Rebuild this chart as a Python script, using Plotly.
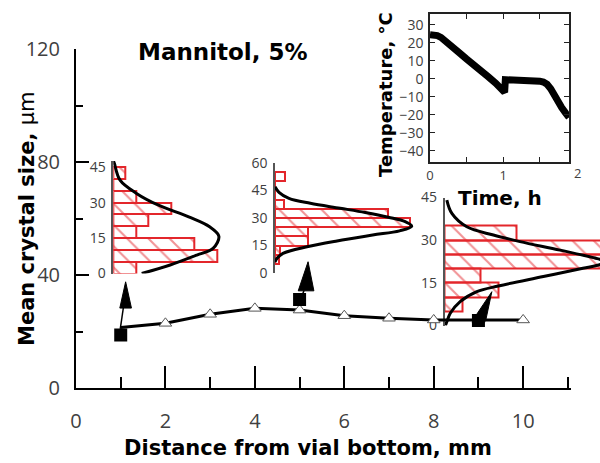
import plotly.graph_objects as go

W, H = 600, 463
RED = "#e3262b"
TICK_GRAY = "#404040"
TITLE_FONT = "DejaVu Sans"

# ---------------- main chart data ----------------
dist_mm = [1, 2, 3, 4, 5, 6, 7, 8, 9, 10]
mean_size_um = [21.5, 23.0, 26.2, 28.3, 27.7, 25.7, 24.8, 24.2, 24.2, 24.2]
tri_dist = [2, 3, 4, 5, 6, 7, 8, 9, 10]
tri_size = [23.0, 26.2, 28.3, 27.7, 25.7, 24.8, 24.2, 24.2, 24.2]
sq_dist = [1, 5, 9]
sq_size = [18.9, 31.4, 24.0]
x_tick_vals = [0, 2, 4, 6, 8, 10]
y_tick_vals = [0, 40, 80, 120]

# arrows (data units of main chart)
arrow_base_left = [0.98, 4.97, 8.86]
arrow_base_right = [1.24, 5.32, 9.16]
arrow_base_y = [28.4, 34.5, 23.8]
arrow_tip_x = [1.11, 5.19, 9.30]
arrow_tip_y = [37.7, 44.8, 34.2]
stem_x0 = [0.99, 5.06]
stem_y0 = [21.0, 33.0]
stem_x1 = [1.06, 5.10]
stem_y1 = [28.6, 34.6]

# ---------------- temperature inset ----------------
time_h = [0, 0.05, 0.1, 0.15, 0.2, 0.3, 0.4, 0.5, 0.6, 0.7, 0.8, 0.9, 1.0, 1.02,
          1.03, 1.1, 1.2, 1.3, 1.4, 1.5, 1.55, 1.6, 1.65, 1.7, 1.75, 1.8, 1.85, 1.9]
temp_c = [24.5, 24.5, 24.0, 23.0, 21.5, 18.5, 14.5, 11.0, 8.0, 4.5, 1.0, -2.5, -6.5, -7.5,
          -0.5, -0.5, -0.6, -0.8, -1.0, -1.3, -1.8, -3.0, -5.5, -9.5, -13.0, -16.0, -18.8, -21.5]
temp_ticks = [30, 20, 10, 0, -10, -20, -30, -40]

# ---------------- histogram insets ----------------
bin_w = 5
h1_centers = [2.5, 7.5, 12.5, 17.5, 22.5, 27.5, 32.5, 37.5, 42.5]
h1_counts = [2, 9, 7, 2, 3, 5, 2, 0, 1]
h1_curve_size = [0, 3.6, 7.8, 10.6, 15.8, 19.8, 24, 28.9, 33.9, 39.5, 46.6, 47.8]
h1_curve_freq = [2.45, 4.9, 7.2, 8.6, 9.1, 8.3, 6.5, 3.9, 2.0, 0.58, 0.09, 0]
h1_ticks = [0, 15, 30, 45]

h2_centers = [7.5, 12.5, 17.5, 22.5, 27.5, 32.5, 37.5, 42.5, 47.5, 52.5]
h2_counts = [0.4, 0.5, 3.5, 3.5, 14.5, 12.2, 1.0, 0, 0, 1.1]
h2_curve_size = [6, 8, 10.7, 14.3, 17.5, 20.7, 23, 25.5, 28, 30.4, 33, 35.3, 38, 40.7, 44, 47]
h2_curve_freq = [0, 0.22, 0.86, 3.44, 6.67, 10.5, 13.4, 14.7, 14.0, 12.2, 9.7, 7.0, 3.8, 1.5, 0.43, 0]
h2_ticks = [0, 15, 30, 45, 60]

h3_centers = [7.5, 12.5, 17.5, 22.5, 27.5, 32.5]
h3_counts = [1, 3, 2, 10, 10, 4]
h3_curve_size = [0, 1.3, 4.3, 8.4, 11.9, 13.9, 17.2, 20.1, 21.5, 22.5, 23.5, 26.5, 29.5, 31.8, 34.7, 39.4, 44.1]
h3_curve_freq = [0.05, 0.13, 0.32, 0.87, 1.8, 3.0, 5.5, 7.7, 8.7, 8.95, 8.5, 6.43, 4.2, 2.72, 1.24, 0.41, 0.13]
h3_ticks = [0, 15, 30, 45]


def px_x(p):
    return p / W


def px_y(p):
    return (H - p) / H


fig = go.Figure()

bar_marker = dict(color="rgba(0,0,0,0)", line=dict(color=RED, width=2),
                  pattern=dict(shape="\\", fgcolor=RED, size=15, solidity=0.14))

for ax, cen, cnt, cs, cf in [("", h1_centers, h1_counts, h1_curve_size, h1_curve_freq),
                             ("2", h2_centers, h2_counts, h2_curve_size, h2_curve_freq),
                             ("3", h3_centers, h3_counts, h3_curve_size, h3_curve_freq)]:
    fig.add_trace(go.Bar(y=cen, x=cnt, width=bin_w, orientation="h", marker=bar_marker,
                         xaxis="x" + ax, yaxis="y" + ax, showlegend=False, hoverinfo="skip"))
    fig.add_trace(go.Scatter(x=cf, y=cs, mode="lines",
                             line=dict(color="black", width=3, shape="spline", smoothing=1.0),
                             xaxis="x" + ax, yaxis="y" + ax, showlegend=False, hoverinfo="skip"))

# temperature inset
fig.add_trace(go.Scatter(x=time_h, y=temp_c, mode="lines",
                         line=dict(color="black", width=7),
                         xaxis="x4", yaxis="y4", showlegend=False, hoverinfo="skip"))

# main chart
fig.add_trace(go.Scatter(x=dist_mm, y=mean_size_um, mode="lines",
                         line=dict(color="black", width=3),
                         xaxis="x5", yaxis="y5", showlegend=False, hoverinfo="skip"))
fig.add_trace(go.Scatter(x=tri_dist, y=tri_size, mode="markers",
                         marker=dict(symbol="triangle-up", size=11, color="white",
                                     line=dict(color="#555", width=1)),
                         xaxis="x5", yaxis="y5", showlegend=False, hoverinfo="skip"))
fig.add_trace(go.Scatter(x=sq_dist, y=sq_size, mode="markers",
                         marker=dict(symbol="square", size=13, color="black"),
                         xaxis="x5", yaxis="y5", showlegend=False, hoverinfo="skip"))
for i in range(len(stem_x0)):
    fig.add_trace(go.Scatter(x=[stem_x0[i], stem_x1[i]], y=[stem_y0[i], stem_y1[i]],
                             mode="lines", line=dict(color="black", width=1.5),
                             xaxis="x5", yaxis="y5", showlegend=False, hoverinfo="skip"))
for i in range(len(arrow_tip_x)):
    fig.add_trace(go.Scatter(
        x=[arrow_base_left[i], arrow_base_right[i], arrow_tip_x[i], arrow_base_left[i]],
        y=[arrow_base_y[i], arrow_base_y[i], arrow_tip_y[i], arrow_base_y[i]],
        mode="lines", fill="toself", fillcolor="black",
        line=dict(color="black", width=1), xaxis="x5", yaxis="y5", showlegend=False,
        hoverinfo="skip"))

hidden = dict(visible=False, showgrid=False, zeroline=False)
inset_y = dict(showline=True, linecolor="#555", linewidth=1.5, ticks="", showgrid=False,
               zeroline=False, tickfont=dict(family="Open Sans", size=14, color=TICK_GRAY),
               ticklabelstandoff=3)

fig.update_layout(
    width=W, height=H, autosize=False,
    margin=dict(l=0, r=0, t=0, b=0, pad=0, autoexpand=False),
    paper_bgcolor="white", plot_bgcolor="rgba(0,0,0,0)",
    showlegend=False, bargap=0, hovermode=False,
    # inset 1
    xaxis=dict(domain=[px_x(113.3), px_x(229.3)], range=[0, 10], anchor="y", **hidden),
    yaxis=dict(domain=[px_y(273.5), px_y(161.0)], range=[0, 47.6], anchor="x",
               tickvals=h1_ticks, **inset_y),
    # inset 2
    xaxis2=dict(domain=[px_x(275), px_x(423.8)], range=[0, 16], anchor="y2", **hidden),
    yaxis2=dict(domain=[px_y(273), px_y(163)], range=[0, 60], anchor="x2",
                tickvals=h2_ticks, **inset_y),
    # inset 3
    xaxis3=dict(domain=[px_x(444.5), 1.0], range=[0, 8.65], anchor="y3", **hidden),
    yaxis3=dict(domain=[px_y(325.5), px_y(197.5)], range=[0, 45], anchor="x3",
                tickvals=h3_ticks, **inset_y),
    # temperature inset
    xaxis4=dict(domain=[px_x(430), px_x(569)], range=[0, 1.9], anchor="y4",
                showline=True, mirror="ticks", linecolor="#222", linewidth=1.5,
                ticks="inside", ticklen=5, tickcolor="#222",
                tickvals=[0, 0.5, 1, 1.5], ticktext=["0", "", "1", ""],
                showgrid=False, zeroline=False, ticklabelstandoff=1,
                tickfont=dict(family="Open Sans", size=13, color=TICK_GRAY)),
    yaxis4=dict(domain=[px_y(161.6), px_y(14)], range=[-46, 36], anchor="x4",
                showline=True, mirror="ticks", linecolor="#222", linewidth=1.5,
                ticks="inside", ticklen=5, tickcolor="#222", tickvals=temp_ticks,
                showgrid=False, zeroline=False, ticklabelstandoff=2,
                tickfont=dict(family="Open Sans", size=14, color=TICK_GRAY)),
    # main chart
    xaxis5=dict(domain=[px_x(76), px_x(571)], range=[0, 11.07], anchor="y5",
                showline=True, linecolor="black", linewidth=2,
                ticks="inside", ticklen=22, tickwidth=2, tickcolor="black",
                tickvals=x_tick_vals,
                minor=dict(ticks="inside", ticklen=11, tickwidth=2, tickcolor="black",
                           tick0=0, dtick=1, showgrid=False),
                showgrid=False, zeroline=False, ticklabelstandoff=14,
                tickfont=dict(family="Open Sans", size=20, color=TICK_GRAY)),
    yaxis5=dict(domain=[px_y(388.3), px_y(49.3)], range=[0, 120], anchor="x5",
                showline=True, linecolor="black", linewidth=2,
                ticks="inside", ticklen=13, tickwidth=2, tickcolor="black",
                tickvals=y_tick_vals,
                minor=dict(ticks="inside", ticklen=7, tickwidth=2, tickcolor="black",
                           tick0=0, dtick=20, showgrid=False),
                showgrid=False, zeroline=False, ticklabelstandoff=10,
                tickfont=dict(family="Open Sans", size=20, color=TICK_GRAY)),
)

ann_common = dict(xref="paper", yref="paper", showarrow=False, xanchor="center", yanchor="middle")
annotations = [
    dict(text="<b>Mannitol, 5%</b>", x=px_x(223), y=px_y(52),
         font=dict(family=TITLE_FONT, size=23, color="black"), **ann_common),
    dict(text="<b>Mean crystal size, </b>μm", x=px_x(27), y=px_y(219), textangle=-90,
         font=dict(family=TITLE_FONT, size=21, color="black"), **ann_common),
    dict(text="<b>Distance from vial bottom, mm</b>", x=px_x(308), y=px_y(448),
         font=dict(family=TITLE_FONT, size=21, color="black"), **ann_common),
    dict(text="<b>Temperature, °C</b>", x=px_x(385), y=px_y(95), textangle=-90,
         font=dict(family=TITLE_FONT, size=18, color="black"), **ann_common),
    dict(text="<b>Time, h</b>", x=px_x(500), y=px_y(198),
         font=dict(family=TITLE_FONT, size=20, color="black"), **ann_common),
    dict(text="2", x=px_x(577), y=px_y(173),
         font=dict(family="Open Sans", size=13, color=TICK_GRAY), **ann_common),
]
fig.update_layout(annotations=annotations)

fig.write_html("out.html", config={"displayModeBar": False},
               post_script="document.body.style.margin='0px';")
